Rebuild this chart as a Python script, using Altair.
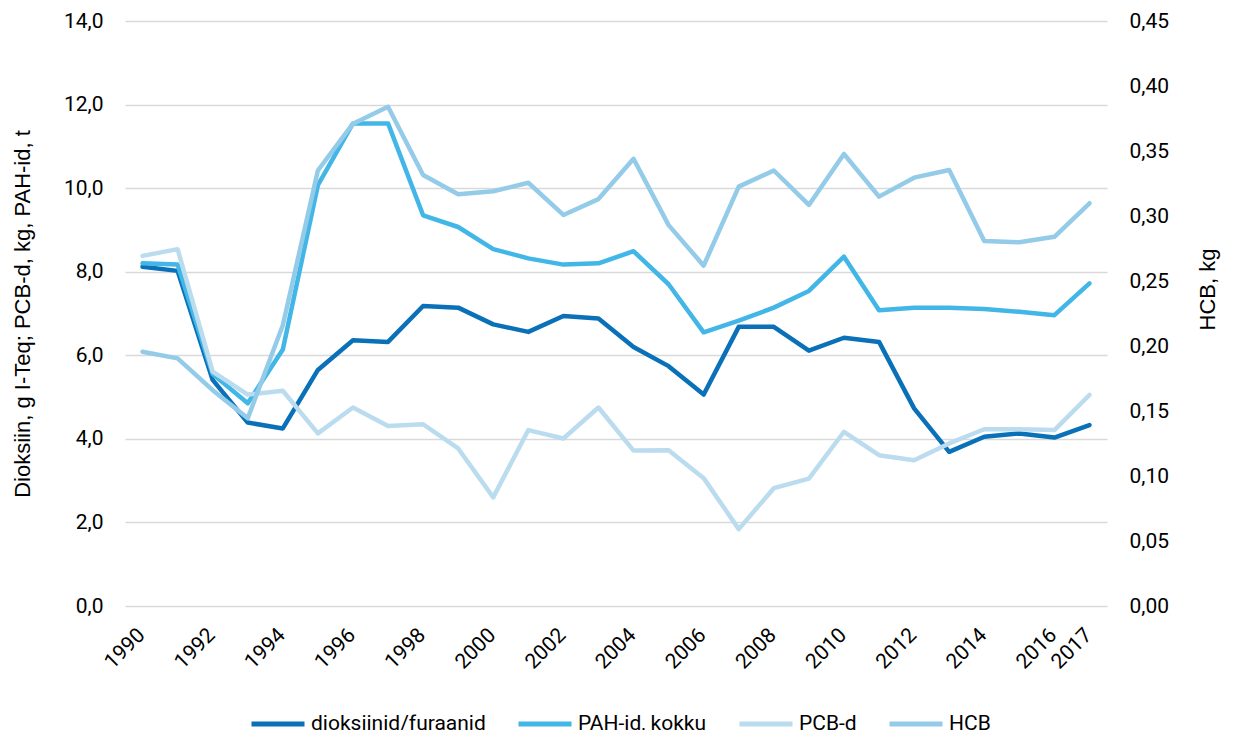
import altair as alt
import pandas as pd

years = list(range(1990, 2018))

dioksiinid = [8.12, 8.02, 5.41, 4.39, 4.25, 5.65, 6.36, 6.32, 7.18, 7.14,
              6.74, 6.56, 6.94, 6.88, 6.20, 5.74, 5.06, 6.68, 6.68, 6.11,
              6.42, 6.32, 4.73, 3.69, 4.05, 4.13, 4.03, 4.33]
pah = [8.20, 8.17, 5.55, 4.85, 6.14, 10.07, 11.55, 11.55, 9.35, 9.07,
       8.54, 8.32, 8.17, 8.20, 8.49, 7.70, 6.55, 6.83, 7.14, 7.54,
       8.36, 7.08, 7.14, 7.14, 7.11, 7.04, 6.96, 7.72]
pcb = [8.38, 8.54, 5.61, 5.06, 5.15, 4.13, 4.75, 4.31, 4.35, 3.77,
       2.60, 4.21, 4.01, 4.75, 3.72, 3.73, 3.06, 1.84, 2.82, 3.05,
       4.17, 3.61, 3.49, 3.89, 4.23, 4.23, 4.21, 5.05]
hcb = [0.1956, 0.1905, 0.166, 0.1444, 0.216, 0.335, 0.371, 0.384, 0.3315, 0.3167,
       0.319, 0.3256, 0.3008, 0.313, 0.344, 0.293, 0.2618, 0.3226, 0.335, 0.3085,
       0.3477, 0.3149, 0.3295, 0.3354, 0.2808, 0.2798, 0.284, 0.3098]

series_names = ["dioksiinid/furaanid", "PAH-id, kokku", "PCB-d", "HCB"]
series_colors = ["#0a71b9", "#42b7e7", "#bbdcee", "#93cbe9"]
x_label_years = [1990, 1992, 1994, 1996, 1998, 2000, 2002, 2004, 2006,
                 2008, 2010, 2012, 2014, 2016, 2017]
left_ticks = [0, 2, 4, 6, 8, 10, 12, 14]
right_ticks = [0, 0.05, 0.10, 0.15, 0.20, 0.25, 0.30, 0.35, 0.40, 0.45]

rows = []
for name, vals in zip(series_names[:3], [dioksiinid, pah, pcb]):
    for y, v in zip(years, vals):
        rows.append({"year": y, "value": v, "series": name, "ord": series_names.index(name)})
left_df = pd.DataFrame(rows)
right_df = pd.DataFrame({"year": years, "value": hcb, "series": "HCB", "ord": 3})

FONT = "Roboto"
TFONT = "Liberation Sans, Arial, sans-serif"
FS = 21
TFS = 22

color = alt.Color(
    "series:N",
    scale=alt.Scale(domain=series_names, range=series_colors),
    sort=series_names,
    legend=alt.Legend(
        title=None, orient="none", direction="horizontal",
        legendX=124, legendY=674,
        symbolType="stroke", symbolSize=2809, symbolStrokeWidth=5,
        labelFont=FONT, labelFontSize=FS, labelColor="#000000", labelLimit=0,
        columnPadding=22, labelOffset=4,
    ),
)

x = alt.X(
    "year:O",
    title=None,
    axis=alt.Axis(
        values=x_label_years, labelAngle=-45, ticks=False, domain=False,
        labelFont=FONT, labelFontSize=FS, labelColor="#000000",
        labelPadding=18, labelOffset=-9, grid=False,
    ),
)

left = alt.Chart(left_df).mark_line(strokeWidth=4.5, strokeCap="round", strokeJoin="round").encode(
    x=x,
    y=alt.Y(
        "value:Q",
        scale=alt.Scale(domain=[0, 14], nice=False),
        axis=alt.Axis(
            values=left_ticks, orient="left",
            title="Dioksiin, g I-Teq; PCB-d, kg, PAH-id, t",
            titleFont=TFONT, titleFontSize=TFS, titleFontWeight="normal", titleColor="#000000",
            titlePadding=29,
            labelExpr="replace(format(datum.value, '.1f'), '.', ',')",
            labelFont=FONT, labelFontSize=FS, labelColor="#000000",
            labelPadding=22, ticks=False, domain=False,
            grid=True, gridColor="#d9d9d9", gridWidth=1.6,
        ),
    ),
    color=color,
    detail="series:N",
    order="ord:Q",
)

right = alt.Chart(right_df).mark_line(strokeWidth=4.5, strokeCap="round", strokeJoin="round").encode(
    x=x,
    y=alt.Y(
        "value:Q",
        scale=alt.Scale(domain=[0, 0.45], nice=False),
        axis=alt.Axis(
            values=right_ticks, orient="right",
            title="HCB, kg",
            titleFont=TFONT, titleFontSize=TFS, titleFontWeight="normal", titleColor="#000000",
            titleAngle=270, titleBaseline="top", titlePadding=29, titleY=268,
            labelExpr="replace(format(datum.value, '.2f'), '.', ',')",
            labelFont=FONT, labelFontSize=FS, labelColor="#000000",
            labelPadding=22, ticks=False, domain=False, grid=False,
        ),
    ),
    color=color,
)

chart = alt.layer(left, right).resolve_scale(y="independent").properties(
    width=982, height=585,
    autosize=alt.AutoSizeParams(type="none"),
    padding={"left": 117, "top": 13, "right": 118, "bottom": 124},
).configure(background="white").configure_view(stroke=None)

chart.save("out.html", embed_options={"renderer": "svg", "actions": False})
